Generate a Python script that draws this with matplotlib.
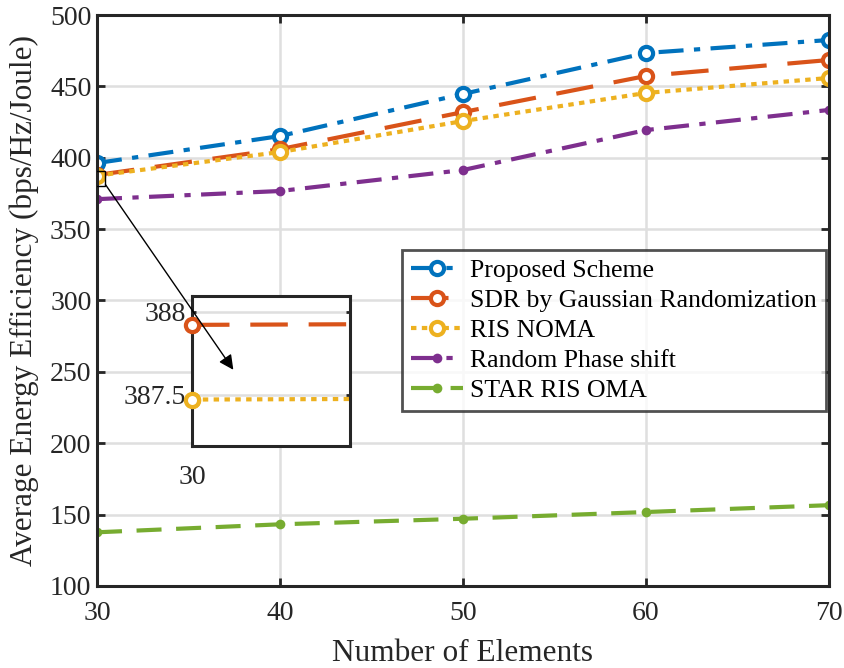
import matplotlib.pyplot as plt
import numpy as np

plt.rcParams['font.family'] = ['Liberation Serif', 'DejaVu Serif']
plt.rcParams['mathtext.fontset'] = 'stix'

elements = [30, 40, 50, 60, 70]
proposed = [396.3, 415.2, 444.7, 473.4, 482.5]
sdr_gauss = [387.92, 406.0, 432.0, 457.3, 468.5]
ris_noma = [387.47, 404.0, 425.7, 445.4, 455.9]
random_phase = [371.0, 376.7, 391.4, 419.4, 433.5]
star_oma = [137.6, 143.2, 147.1, 151.8, 156.6]

labels = ['Proposed Scheme', 'SDR by Gaussian Randomization', 'RIS NOMA',
          'Random Phase shift', 'STAR RIS OMA']
colors = ['#0072BD', '#D95319', '#EDB120', '#7E2F8E', '#77AC30']
styles = [(0, (6, 2.5, 1.5, 2.5)), (0, (9, 5)), (0, (1.3, 1.3)),
          (0, (6, 2.5, 1.5, 2.5)), (0, (6, 3.5))]
markers = ['o', 'o', 'o', '.', '.']
series = [proposed, sdr_gauss, ris_noma, random_phase, star_oma]

axis_color = '#262626'
grid_color = '#dfdfdf'


def style_axes(ax):
    for s in ax.spines.values():
        s.set_color(axis_color)
        s.set_linewidth(2.2)
    ax.tick_params(direction='in', length=6, width=2, color=axis_color,
                   top=True, right=True, labelsize=20, labelcolor=axis_color)
    ax.tick_params(axis='y', pad=4)
    ax.tick_params(axis='x', pad=11)
    ax.grid(True, color=grid_color, linewidth=1.8)
    ax.set_axisbelow(True)


def marker_kw(c, m):
    if m == 'o':
        return dict(marker='o', markersize=9.5, markerfacecolor='white',
                    markeredgecolor=c, markeredgewidth=3)
    return dict(marker='o', markersize=7, markerfacecolor=c,
                markeredgewidth=0)


def draw_series(ax):
    for y, lab, c, ls, m in zip(series, labels, colors, styles, markers):
        ax.plot(elements, y, color=c, linestyle=ls, linewidth=3,
                label=lab, **marker_kw(c, m))


fig = plt.figure(figsize=(8.45, 6.68), dpi=100)
ax = fig.add_axes([0.1148, 0.1228, 0.8662, 0.8547])
draw_series(ax)
ax.set_xlim(30, 70)
ax.set_ylim(100, 500)
ax.set_xticks(elements)
ax.set_yticks(np.arange(100, 501, 50))
style_axes(ax)
ax.set_xlabel('Number of Elements', fontsize=22.5, color=axis_color,
              labelpad=9)
ax.set_ylabel('Average Energy Efficiency (bps/Hz/Joule)', fontsize=22.5,
              color=axis_color, labelpad=8)

leg = ax.legend(loc='upper right', bbox_to_anchor=(0.9775, 0.6257),
                bbox_transform=fig.transFigure, fontsize=18.5, frameon=True,
                fancybox=False, handlelength=2.0, borderpad=0.35,
                labelspacing=0.27, handletextpad=0.3, borderaxespad=0)
leg.get_frame().set_edgecolor(axis_color)
leg.get_frame().set_linewidth(2)

# zoom rectangle around the first point
ax.add_patch(plt.Rectangle((29.8, 380.5), 0.65, 10.0, fill=False,
                           edgecolor='black', linewidth=1, zorder=5))

# inset showing the overlapping start values
ins = fig.add_axes([0.2272, 0.3323, 0.187, 0.2246])
draw_series(ins)
ins.set_xlim(30, 30.002)
ins.set_ylim(387.19, 388.094)
lo, hi = ins.get_ylim()
# keep the start markers whole on the inset's left edge
for y, c, m in zip(series, colors, markers):
    if lo <= y[0] <= hi:
        ins.plot(elements[0], y[0], linestyle='none', clip_on=False,
                 zorder=4, **marker_kw(c, m))
ins.set_xticks([30])
ins.set_yticks([387.5, 388])
ins.set_yticklabels(['387.5', '388'])
style_axes(ins)
ins.grid(False, axis='x')
ins.tick_params(length=3)
ins.tick_params(axis='x', pad=14)

# arrow from the zoom rectangle into the inset, drawn above both axes
ins.annotate('', xy=(0.278, 0.443), xycoords='figure fraction',
             xytext=(0.123, 0.727), textcoords='figure fraction',
             arrowprops=dict(arrowstyle='-|>', color='black', lw=1,
                             mutation_scale=22), zorder=10)

fig.savefig('out.png', dpi=100)
